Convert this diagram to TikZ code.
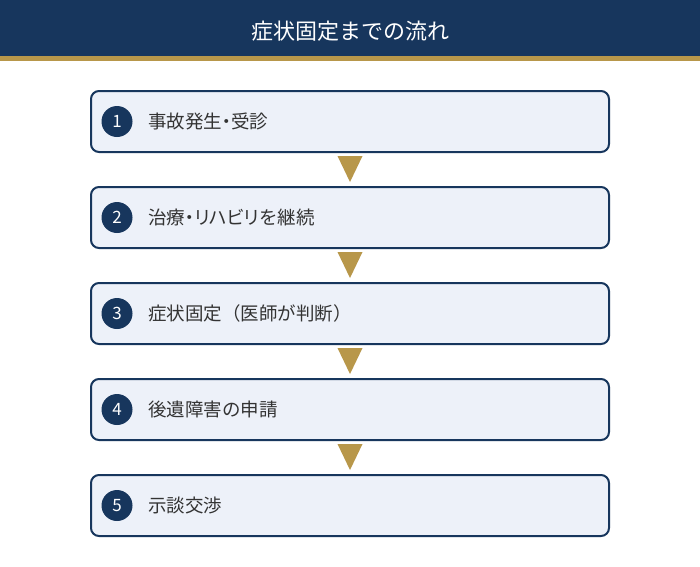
\documentclass[tikz,border=0pt]{standalone}
\usepackage{fontspec}
\setmainfont{Noto Sans CJK JP}
\newfontfamily\paltfont[RawFeature=+palt]{Noto Sans CJK JP}
\definecolor{navy}{HTML}{17365D}
\definecolor{gold}{HTML}{B8974A}
\definecolor{boxfill}{HTML}{EDF1F9}
\definecolor{txt}{HTML}{333333}
\begin{document}
\begin{tikzpicture}[x=1pt,y=-1pt,
  stepbox/.style={draw=navy,line width=2pt,fill=boxfill,rounded corners=8pt,minimum width=518pt,minimum height=61pt,inner sep=0pt},
  numdot/.style={circle,fill=navy,minimum size=31pt,inner sep=0pt,text=white,font=\fontsize{17}{19}\selectfont},
  steplabel/.style={anchor=west,text=txt,font=\fontsize{18.5}{22}\selectfont,inner sep=0pt},
  tri/.style={fill=gold,draw=none}]
\useasboundingbox (0,0) rectangle (700,566);
\fill[white] (0,0) rectangle (700,566);
\fill[navy] (0,0) rectangle (700,56);
\fill[gold] (0,56) rectangle (700,61);
\node[text=white,font=\fontsize{22}{26}\selectfont] (title) at (350,31) {症状固定までの流れ};
\foreach \i/\t in {1/事故発生{\paltfont ・}受診,2/治療{\paltfont ・リハビリ}を継続,3/症状固定（医師が判断）,4/後遺障害の申請,5/示談交渉}{
  \pgfmathsetmacro{\yy}{121.5+96*(\i-1)}
  \node[stepbox] (b\i) at (350,\yy) {};
  \node[numdot] (n\i) at (117,\yy) {\i};
  \node[steplabel] (l\i) at (148,\yy) {\t};
}
\foreach \i in {1,2,3,4}{
  \pgfmathsetmacro{\ty}{156+96*(\i-1)}
  \coordinate (t\i) at (350,\ty);
  \fill[tri] ([xshift=-12.5pt]t\i) -- ([xshift=12.5pt]t\i) -- ([yshift=-26pt]t\i) -- cycle;
}
\end{tikzpicture}
\end{document}
